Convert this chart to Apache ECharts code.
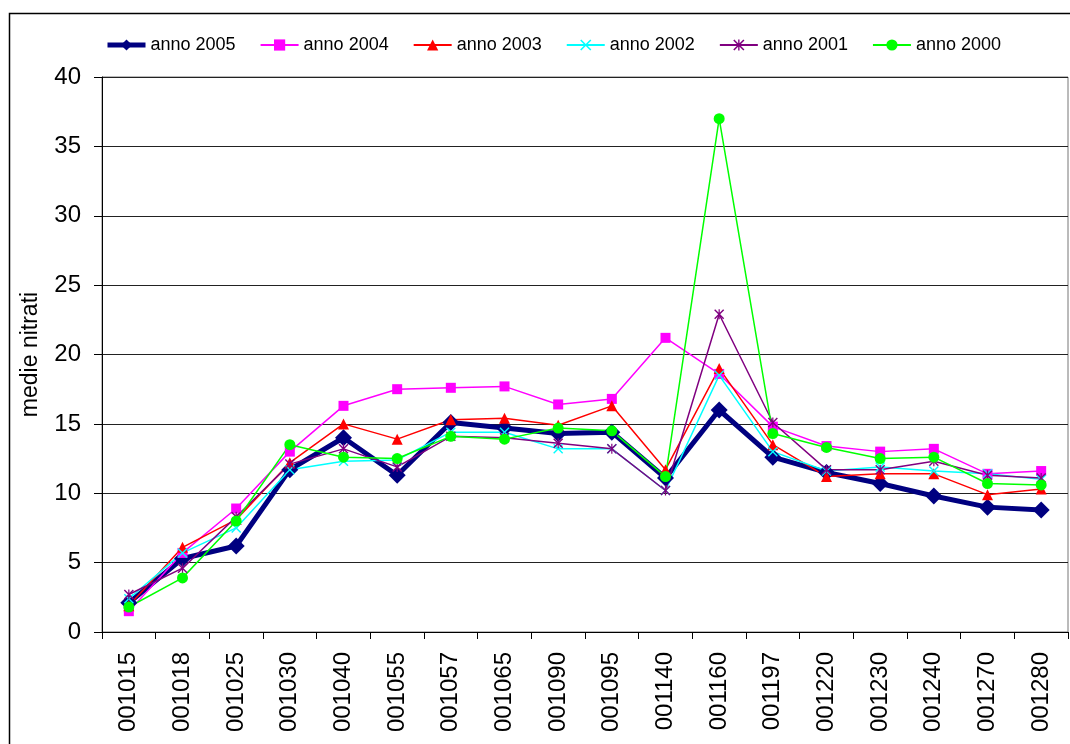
<!DOCTYPE html>
<html>
<head>
<meta charset="utf-8">
<script src="https://cdn.jsdelivr.net/npm/echarts@6/dist/echarts.min.js"></script>
<style>
html, body { margin: 0; padding: 0; background: #fff; }
#chart { width: 1070px; height: 744px; }
</style>
</head>
<body>
<div id="chart"></div>
<script>
// stazioni
var categories = ['001015','001018','001025','001030','001040','001055','001057','001065','001090',
    '001095','001140','001160','001197','001220','001230','001240','001270','001280'];
var yTicks = [0, 5, 10, 15, 20, 25, 30, 35, 40];

// medie nitrati per anno
var anno2005 = [2.1, 5.3, 6.2, 11.7, 14.0, 11.3, 15.1, 14.7, 14.3, 14.4, 11.1, 16.0, 12.6, 11.5, 10.7, 9.8, 9.0, 8.8];
var anno2004 = [1.5, 5.7, 8.9, 13.0, 16.3, 17.5, 17.6, 17.7, 16.4, 16.8, 21.2, 18.6, 14.8, 13.4, 13.0, 13.2, 11.4, 11.6];
var anno2003 = [1.9, 6.1, 8.1, 12.2, 15.0, 13.9, 15.3, 15.4, 14.9, 16.3, 11.7, 19.0, 13.5, 11.2, 11.4, 11.4, 9.9, 10.3];
var anno2002 = [2.4, 5.7, 7.5, 11.7, 12.3, 12.4, 14.4, 14.4, 13.2, 13.2, 10.2, 18.5, 13.0, 11.6, 11.9, 11.6, 11.4, 11.0];
var anno2001 = [2.7, 4.6, 8.3, 12.1, 13.2, 11.9, 14.1, 14.0, 13.6, 13.2, 10.2, 22.9, 15.1, 11.7, 11.7, 12.3, 11.3, 11.1];
var anno2000 = [1.8, 3.9, 8.0, 13.5, 12.6, 12.5, 14.1, 13.9, 14.7, 14.5, 11.2, 37.0, 14.3, 13.3, 12.5, 12.6, 10.7, 10.6];

var crossPath = 'path://M0,1 L1,0 L5,4 L9,0 L10,1 L6,5 L10,9 L9,10 L5,6 L1,10 L0,9 L4,5 Z';
var starPath = 'path://M0,1 L1,0 L5,4 L9,0 L10,1 L6,5 L10,9 L9,10 L5,6 L1,10 L0,9 L4,5 Z M4.4,0 L5.6,0 L5.6,10 L4.4,10 Z';

var font = 'Liberation Sans, Arial, sans-serif';

function makeSeries(name, data, color, symbol, size, width) {
    return {
        name: name,
        type: 'line',
        data: data,
        symbol: symbol,
        symbolSize: size,
        showAllSymbol: true,
        animation: false,
        lineStyle: { color: color, width: width },
        itemStyle: { color: color, borderWidth: 0 },
        emphasis: { disabled: true }
    };
}

var chart = echarts.init(document.getElementById('chart'));
chart.setOption({
    backgroundColor: '#fff',
    textStyle: { fontFamily: font, color: '#000' },
    graphic: [{
        type: 'rect',
        shape: { x: 9.5, y: 13.5, width: 1200, height: 900 },
        style: { fill: null, stroke: '#000', lineWidth: 1.5 },
        silent: true
    }],
    legend: {
        left: 100,
        top: 31,
        itemWidth: 38,
        itemHeight: 14,
        itemGap: 24,
        textStyle: { fontSize: 18, color: '#000', fontFamily: font },
        data: [
            { name: 'anno 2005', lineStyle: { width: 5 } },
            { name: 'anno 2004' },
            { name: 'anno 2003' },
            { name: 'anno 2002' },
            { name: 'anno 2001' },
            { name: 'anno 2000' }
        ]
    },
    grid: {
        left: 102,
        right: 2,
        top: 77,
        bottom: 112,
        show: true,
        borderColor: '#777',
        borderWidth: 1
    },
    xAxis: {
        type: 'category',
        data: categories,
        boundaryGap: true,
        axisLine: { lineStyle: { color: '#000', width: 1 } },
        axisTick: { show: true, length: 7, interval: 0, lineStyle: { color: '#000' } },
        axisLabel: {
            rotate: 90,
            interval: 0,
            margin: 20,
            fontSize: 24,
            color: '#000',
            fontFamily: font
        },
        splitLine: { show: false }
    },
    yAxis: {
        type: 'value',
        min: yTicks[0],
        max: yTicks[yTicks.length - 1],
        interval: 5,
        name: 'medie nitrati',
        nameLocation: 'middle',
        nameGap: 60,
        nameTextStyle: { fontSize: 23, color: '#000', fontFamily: font },
        axisLine: { show: true, lineStyle: { color: '#000', width: 1 } },
        axisTick: { show: true, length: 8, lineStyle: { color: '#000' } },
        axisLabel: {
            margin: 21,
            fontSize: 24,
            color: '#000',
            fontFamily: font
        },
        splitLine: { show: true, lineStyle: { color: '#222', width: 1 } }
    },
    series: [
        makeSeries('anno 2005', anno2005, '#000080', 'diamond', 17, 5),
        makeSeries('anno 2004', anno2004, '#FF00FF', 'rect', 10, 1.5),
        makeSeries('anno 2003', anno2003, '#FF0000', 'triangle', 11, 1.5),
        makeSeries('anno 2002', anno2002, '#00FFFF', crossPath, 10, 1.5),
        makeSeries('anno 2001', anno2001, '#800080', starPath, 10, 1.5),
        makeSeries('anno 2000', anno2000, '#00FF00', 'circle', 11, 1.5)
    ]
});
</script>
</body>
</html>
